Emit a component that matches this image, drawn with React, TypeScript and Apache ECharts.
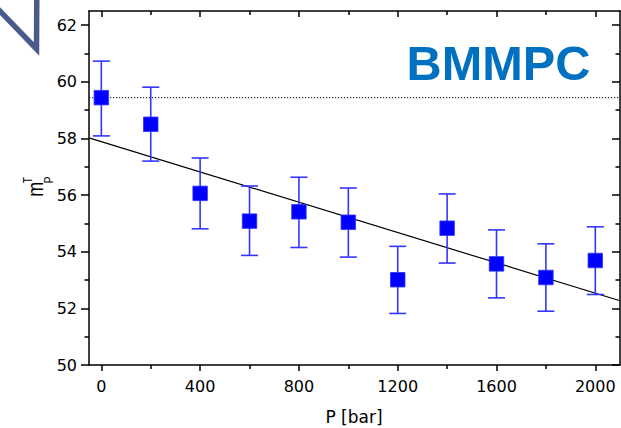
import React, { useEffect, useRef } from 'react';
import * as echarts from 'echarts';

const pressures = [0, 200, 400, 600, 800, 1000, 1200, 1400, 1600, 1800, 2000];
const mValues = [59.44, 58.5, 56.06, 55.08, 55.41, 55.04, 53.01, 54.83, 53.57, 53.09, 53.69];
const errHigh = [60.73, 59.81, 57.31, 56.32, 56.63, 56.25, 54.19, 56.04, 54.77, 54.28, 54.88];
const errLow = [58.09, 57.2, 54.81, 53.87, 54.15, 53.81, 51.82, 53.6, 52.37, 51.9, 52.49];
const fitX = [-50, 2100];
const fitY = [58.02, 52.27];
const refLevel = 59.44;
const xMajorTicks = [0, 400, 800, 1200, 1600, 2000];
const xMinorTicks = [200, 600, 1000, 1400, 1800];
const yMajorTicks = [50, 52, 54, 56, 58, 60, 62];
const yMinorTicks = [51, 53, 55, 57, 59, 61];
const X_MIN = -50;
const X_MAX = 2100;
const Y_MIN = 50;
const Y_MAX = 62.5;

const GRID = { left: 89, top: 11, width: 531, height: 354 };
const FONT = 'DejaVu Sans';

function xAxisDef(gridIndex: number, position: string, ticks: number[], len: number, inside: boolean, showLine: boolean, showLabel: boolean) {
  return {
    type: 'value',
    gridIndex,
    position,
    min: X_MIN,
    max: X_MAX,
    splitLine: { show: false },
    axisLine: { show: showLine, onZero: false, lineStyle: { color: '#000', width: 1.5 } },
    axisTick: { show: true, inside, length: len, customValues: ticks, lineStyle: { color: '#000', width: 1.5 } },
    axisLabel: showLabel
      ? {
          show: true,
          customValues: ticks,
          fontFamily: FONT,
          fontSize: 16,
          color: '#000',
          margin: 13,
          formatter: (v: number) => String(v),
        }
      : { show: false },
  };
}

function yAxisDef(gridIndex: number, position: string, ticks: number[], len: number, inside: boolean, showLine: boolean, showLabel: boolean) {
  return {
    type: 'value',
    gridIndex,
    position,
    min: Y_MIN,
    max: Y_MAX,
    splitLine: { show: false },
    axisLine: { show: showLine, onZero: false, lineStyle: { color: '#000', width: 1.5 } },
    axisTick: { show: true, inside, length: len, customValues: ticks, lineStyle: { color: '#000', width: 1.5 } },
    axisLabel: showLabel
      ? {
          show: true,
          customValues: ticks,
          fontFamily: FONT,
          fontSize: 16,
          color: '#000',
          margin: 12,
          formatter: (v: number) => String(v),
        }
      : { show: false },
  };
}

export default function App() {
  const ref = useRef<HTMLDivElement>(null);

  useEffect(() => {
    if (!ref.current) return;
    const chart = echarts.init(ref.current, null, { renderer: 'svg' });

    const grids = [0, 1, 2, 3].map(() => ({ ...GRID, containLabel: false }));

    const errorData = pressures.map((p, i) => [p, errLow[i], errHigh[i]]);
    const pointData = pressures.map((p, i) => [p, mValues[i]]);
    const fitData = fitX.map((x, i) => [x, fitY[i]]);
    const refData = [[X_MIN, refLevel], [X_MAX, refLevel]];

    const option: any = {
      animation: false,
      backgroundColor: '#fff',
      grid: grids,
      xAxis: [
        xAxisDef(0, 'bottom', xMajorTicks, 6, false, true, true),
        xAxisDef(1, 'bottom', xMinorTicks, 4, false, false, false),
        xAxisDef(2, 'top', xMajorTicks, 6, true, true, false),
        xAxisDef(3, 'top', xMinorTicks, 4, true, false, false),
      ],
      yAxis: [
        yAxisDef(0, 'left', yMajorTicks, 8, false, true, true),
        yAxisDef(1, 'left', yMinorTicks, 4.5, false, false, false),
        yAxisDef(2, 'right', yMajorTicks, 8, true, true, false),
        yAxisDef(3, 'right', yMinorTicks, 4.5, true, false, false),
      ],
      series: [
        {
          type: 'line',
          xAxisIndex: 0,
          yAxisIndex: 0,
          data: refData,
          showSymbol: false,
          symbol: 'none',
          lineStyle: { color: '#000', width: 1, type: [1.2, 1.8] },
          z: 2,
        },
        {
          type: 'line',
          xAxisIndex: 0,
          yAxisIndex: 0,
          data: fitData,
          showSymbol: false,
          symbol: 'none',
          lineStyle: { color: '#000', width: 1.2 },
          z: 3,
        },
        {
          type: 'custom',
          xAxisIndex: 0,
          yAxisIndex: 0,
          data: errorData,
          encode: { x: 0, y: [1, 2] },
          z: 4,
          renderItem: (params: any, api: any) => {
            const x = api.value(0);
            const lo = api.coord([x, api.value(1)]);
            const hi = api.coord([x, api.value(2)]);
            const hw = 8.5;
            const style = { stroke: '#3535ff', lineWidth: 1.6 };
            return {
              type: 'group',
              children: [
                { type: 'line', shape: { x1: lo[0], y1: lo[1], x2: hi[0], y2: hi[1] }, style },
                { type: 'line', shape: { x1: hi[0] - hw, y1: hi[1], x2: hi[0] + hw, y2: hi[1] }, style },
                { type: 'line', shape: { x1: lo[0] - hw, y1: lo[1], x2: lo[0] + hw, y2: lo[1] }, style },
              ],
            };
          },
        },
        {
          type: 'scatter',
          xAxisIndex: 0,
          yAxisIndex: 0,
          data: pointData,
          symbol: 'rect',
          symbolSize: 14.5,
          itemStyle: { color: '#0000ff', opacity: 1, borderColor: '#3030ff', borderWidth: 0.8 },
          z: 5,
        },
      ],
      graphic: [
        {
          type: 'polyline',
          shape: { points: [[-4, 7], [36.5, 49], [36.8, -4]] },
          style: { stroke: '#4a5a8a', lineWidth: 5.5, fill: 'none', lineJoin: 'miter' },
          z: 10,
        },
        {
          type: 'text',
          x: 498.5,
          y: 63,
          scaleX: 1.16,
          scaleY: 1.13,
          style: {
            text: 'BMMPC',
            fill: '#0070c0',
            fontSize: 42,
            fontWeight: 'bold',
            fontFamily: 'Liberation Sans',
            textAlign: 'center',
            textVerticalAlign: 'middle',
          },
          z: 10,
        },
        {
          type: 'text',
          x: 354,
          y: 417,
          style: {
            text: 'P [bar]',
            fill: '#000',
            fontSize: 17,
            fontFamily: FONT,
            textAlign: 'center',
            textVerticalAlign: 'middle',
          },
          z: 10,
        },
        {
          type: 'group',
          x: 35.5,
          y: 196.7,
          rotation: Math.PI / 2,
          scaleY: 1.25,
          z: 10,
          children: [
            {
              type: 'text',
              x: 0,
              y: 0,
              style: {
                text: 'm',
                fill: '#000',
                fontSize: 18,
                fontFamily: 'Liberation Sans',
                textAlign: 'left',
                textVerticalAlign: 'middle',
              },
            },
            {
              type: 'text',
              x: 13.5,
              y: -6.6,
              style: {
                text: 'T',
                fill: '#000',
                fontSize: 10,
                fontFamily: 'Liberation Sans',
                textAlign: 'left',
                textVerticalAlign: 'middle',
              },
            },
            {
              type: 'text',
              x: 13.5,
              y: 10.6,
              style: {
                text: 'P',
                fill: '#000',
                fontSize: 10,
                fontFamily: 'Liberation Sans',
                textAlign: 'left',
                textVerticalAlign: 'middle',
              },
            },
          ],
        },
      ],
    };

    chart.setOption(option);
    return () => {
      chart.dispose();
    };
  }, []);

  return (
    <div
      ref={ref}
      style={{ position: 'fixed', left: 0, top: 0, width: 621, height: 428, background: '#fff' }}
    />
  );
}
